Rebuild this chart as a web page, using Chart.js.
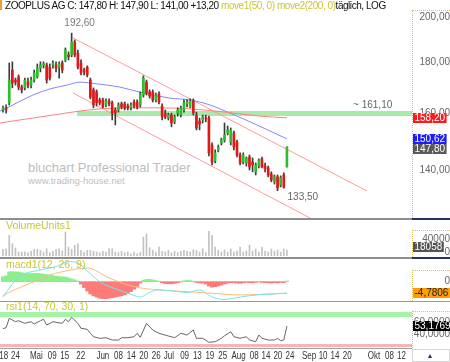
<!DOCTYPE html>
<html lang="de">
<head>
<meta charset="utf-8">
<title>ZOOPLUS AG</title>
<script src="https://cdn.jsdelivr.net/npm/chart.js@4.4.1/dist/chart.umd.min.js"></script>
<style>
body { margin: 0; background: #fff; }
#wrap { position: relative; width: 450px; height: 362px; overflow: hidden; background: #fff;
        font-family: "Liberation Sans", Arial, sans-serif; }
#wrap canvas { position: absolute; left: 0; }
.txt { position: absolute; white-space: nowrap; line-height: 12px; }
.ln { position: absolute; }
.axbox { position: absolute; left: 412px; width: 38px; box-sizing: border-box;
         border-left: 1px dotted #e2c061; border-top: 1px dotted #e2c061; }
</style>
</head>
<body>
<div id="wrap">
  <!-- watermark sits under the charts -->
  <div class="txt" style="left:28px;top:160px;font-size:13px;line-height:15px;color:#bdbdbd">bluchart Professional Trader</div>
  <div class="txt" style="left:28px;top:175px;font-size:9.5px;color:#bdbdbd">www.trading-house.net</div>

  <canvas id="mainChart" width="450" height="218" style="top:0"></canvas>
  <canvas id="volChart" width="450" height="36" style="top:220px"></canvas>
  <canvas id="macdChart" width="450" height="42" style="top:259px"></canvas>
  <canvas id="rsiChart" width="450" height="59" style="top:303px"></canvas>

  <div class="axbox" style="top:10px;height:208px"></div>
  <div class="axbox" style="top:230px;height:27px"></div>
  <div class="axbox" style="top:270px;height:31px"></div>
  <div class="axbox" style="top:311px;height:37px"></div>
  <div class="ln" style="left:412px;top:349px;width:38px;height:13px;box-sizing:border-box;border:1px solid #d8d8d8"></div>
  <div class="txt" style="left:428px;top:350px;font-size:8px;color:#23306a">&#9652;</div>

  <!-- panel separators -->
  <div class="ln" style="left:0;top:218px;width:412px;height:2px;background:#8d8d8d"></div>
  <div class="ln" style="left:412px;top:218px;width:38px;height:2px;background:#25325f"></div>
  <div class="ln" style="left:0;top:257px;width:412px;height:2px;background:#8d8d8d"></div>
  <div class="ln" style="left:412px;top:257px;width:38px;height:2px;background:#25325f"></div>
  <div class="ln" style="left:0;top:301px;width:450px;height:1px;background:#9a9a9a"></div>
  <div class="ln" style="left:0;top:348px;width:412px;height:1px;background:#a0a0a0"></div>
  <div class="ln" style="left:0;top:0;width:2px;height:10px;background:#f0a030"></div>

  <div class="txt" id="title" style="left:5px;top:0;font-size:10px;letter-spacing:-0.45px;color:#111"></div>
  <div class="txt" style="left:6px;top:219px;font-size:10.5px;color:#c9c634">VolumeUnits1</div>
  <div class="txt" style="left:6px;top:258px;font-size:10.5px;color:#c9c634">macd1(12, 26, 9)</div>
  <div class="txt" style="left:6px;top:300px;font-size:10.5px;color:#c9c634">rsi1(14, 70, 30, 1)</div>
</div>

<script>
// daily candles, index 0 = first trading day shown
const candleOpen = [161.1,161.9,163.8,176.8,172.7,174.0,169.9,169.6,171.9,170.7,
  172.7,174.0,177.6,178.9,178.9,178.0,178.9,178.9,178.0,179.7,
  181.0,183.1,183.1,188.7,183.9,179.7,176.8,178.0,172.7,168.8,
  168.0,164.9,164.9,163.0,164.5,163.8,161.1,161.1,163.4,163.4,
  162.6,161.9,164.1,164.1,163.0,166.8,171.9,168.0,168.0,164.9,
  167.2,162.6,159.9,158.1,159.2,156.7,159.9,159.2,161.1,163.4,
  162.2,164.5,159.2,157.0,157.4,158.1,158.1,148.5,143.1,146.8,
  149.2,150.2,152.7,149.5,152.7,149.5,145.1,142.7,142.4,144.4,
  142.7,139.5,141.4,143.8,141.4,140.8,138.8,136.3,137.9,135.3,
  138.5,141.2];
const candleHigh = [162.6,163.0,179.7,180.2,173.5,174.8,170.7,173.5,173.5,173.9,
  176.8,179.3,180.2,180.2,179.7,179.3,180.6,180.2,180.2,180.6,
  186.1,184.4,192.6,189.6,185.2,181.0,177.6,178.5,173.5,169.6,
  168.8,165.6,165.6,165.3,165.3,164.5,161.9,163.8,164.1,164.1,
  163.4,163.8,164.9,164.9,168.0,174.4,172.7,168.8,168.8,167.6,
  168.0,163.4,161.1,159.9,159.9,159.2,161.9,162.6,164.9,164.9,
  165.3,165.3,160.3,158.1,159.2,159.2,158.8,149.2,146.8,148.5,
  150.9,156.3,155.2,154.5,153.4,150.2,145.8,145.8,144.4,145.1,
  144.1,142.4,143.8,144.4,142.4,141.4,139.5,138.5,138.5,138.2,
  139.2,147.9];
const candleLow = [160.3,159.9,163.0,169.6,170.7,168.8,167.6,168.8,169.6,169.6,
  171.9,173.5,176.0,177.6,171.5,172.7,177.6,176.0,173.5,175.6,
  180.2,181.0,182.3,182.3,177.2,174.8,174.8,174.0,165.3,161.9,
  162.6,163.0,161.9,162.2,162.6,157.4,155.6,160.3,161.5,161.1,
  161.1,161.1,161.9,161.5,162.2,166.0,166.8,165.6,164.1,164.1,
  163.4,157.4,157.8,157.4,154.9,156.0,158.8,158.5,160.3,162.2,
  161.9,159.2,153.8,153.8,156.3,156.7,144.8,141.8,142.4,146.1,
  148.5,149.5,152.0,148.5,146.8,144.4,141.8,142.1,141.4,140.1,
  139.5,138.5,140.8,140.8,139.5,137.9,136.3,135.6,133.5,134.7,
  134.3,141.0];
const candleClose = [161.9,161.1,172.7,171.5,171.9,169.9,168.8,172.7,170.7,172.7,
  175.6,177.6,178.9,179.3,172.7,173.5,179.7,177.6,179.3,176.8,
  185.2,182.3,188.7,183.1,178.0,175.6,176.0,174.8,166.0,163.0,
  163.8,163.8,162.2,164.5,163.4,160.0,160.0,163.0,162.2,161.9,
  161.9,163.0,162.6,162.2,167.2,173.5,167.6,166.4,164.9,166.8,
  164.1,158.5,158.5,159.2,156.3,158.5,161.1,161.9,163.8,164.1,
  164.5,160.0,154.5,155.9,158.5,157.8,145.8,142.7,145.8,147.8,
  150.2,152.0,153.8,153.8,147.8,145.1,142.4,145.1,144.1,141.1,
  141.8,141.8,143.4,141.1,140.5,138.5,136.9,137.9,134.4,137.6,
  134.6,147.8];
const volumeUnits = [20800,22600,64200,38100,24800,12400,12400,12400,10200,14600,
  20800,20800,17700,12400,22600,10200,14600,20800,22600,15500,
  74400,27900,20800,33200,38100,17700,12400,17700,17700,14600,
  12400,10200,14600,12400,22600,22600,12400,10200,14600,10200,
  12400,7100,12400,7100,10900,58900,68200,25700,17700,12400,
  27900,14600,12400,17700,10200,14600,10200,14600,17700,14600,
  12400,19500,17700,12400,22600,10900,76600,64200,27900,17700,
  12400,18600,12400,21700,12400,15500,27900,12400,15500,34100,
  15500,21700,12400,27900,15500,12400,21700,15500,18600,12400,
  21700,18058];

// moving averages (read at points along the curve)
const ma50Idx = [-0.96,0.6,3.8,9.6,15.1,20.5,24.7,27.9,37.5,44.9,53.5,59.9,66.3,71.2,79.2,85.6,91];
const ma50Val = [160.7,161.5,163.4,166.8,169.2,170.7,171.9,171.5,169.9,167.6,165.6,164.9,163.0,160.7,156.7,153.4,150.62];
const ma200Idx = [-0.96,5.4,11.9,18.3,24.7,31.1,40.7,50.3,59.9,71.2,82.4,91];
const ma200Val = [156.3,157.4,158.5,159.6,160.7,161.5,161.9,161.9,161.5,160.3,158.8,158.2];

// trend channel and support
const upperIdx = [22.4, 116.7];
const upperVal = [190.5, 133.4];
const lowerIdx = [22.4, 98.4];
const lowerVal = [167.6, 125.3];
const supportLevel = 161.1;
const supportFromIdx = 23.7;

// MACD panel
const macdHist = [2.1,2.5,4.2,4.2,4.2,4.0,3.8,3.6,3.5,3.5,
  3.5,3.5,3.4,3.2,3.0,2.8,2.6,2.4,2.2,2.1,
  2.0,1.6,1.2,0.8,0.3,-1.0,-2.5,-4.0,-5.2,-6.0,
  -6.5,-7.0,-7.2,-7.2,-7.0,-6.8,-6.5,-6.2,-6.0,-5.6,
  -5.0,-4.2,-3.2,-2.0,-0.6,0.6,1.0,1.0,0.8,0.5,
  0.2,-0.4,-0.8,-0.9,-0.9,-0.7,-0.4,-0.1,0.4,0.6,
  0.5,0.2,-0.3,-0.5,-0.6,-1.0,-1.8,-2.3,-2.1,-1.8,
  -1.4,-1.0,-0.6,-0.4,-0.5,-0.6,-0.7,-0.5,-0.3,-0.4,
  -0.5,-0.3,-0.1,-0.3,-0.4,-0.5,-0.6,-0.4,-0.5,-0.3,
  -0.4,0.3];
const macdIdx = [0,3,5,12,17,21,24,26,31,37,40,44,47,50,55,59,63,67,71,76,82,87,91];
const macdVal = [-6.5,-1.0,2.0,5.0,6.4,8.5,8.0,5.8,0,-3.5,-4.8,-6.5,-4.5,-3.5,-4.0,-4.6,-3.5,-6.5,-7.5,-6.5,-5.5,-5.2,-4.78];
const signalIdx = [0,2,10,15,22,27,34,42,50,59,67,76,82,91];
const signalVal = [-6.0,-4.5,0,2.8,5.0,5.8,1.6,-2.1,-3.5,-4.2,-4.9,-5.6,-5.4,-4.9];

// RSI panel
const rsiIdx = [0,1,2,4,5,7,9,10,12,13,14,16,17,19,20,21,22,24,25,27,28,29,31,33,35,37,38,40,42,43,
  44,46,48,49,50,53,55,57,59,61,62,64,66,68,70,71,73,74,76,78,79,81,82,83,85,87,88,89,90,91];
const rsiVal = [49,50.5,66.2,60.5,62.2,57.8,60.5,56.7,62.2,64.5,55,60.5,59.5,57.8,64.5,60.5,67.8,57.8,49.5,47.8,
  41.2,35.5,32.8,33.8,30,30,33.8,33.8,35.5,41.2,
  34.5,57.8,46.7,43.8,41.2,36.7,33.8,41.2,38.3,46.7,32.8,32.8,26.2,27.2,32.8,37,43.8,35.5,32.8,35.5,
  30,27.2,38.3,32.8,30,30,32.8,28.8,30,53.2];
const rsiUpperZone = [68.3, 76.7];
const rsiLowerZone = [18.3, 23.3];

// last values shown in the axis boxes
const lastMa200 = 158.2, lastMa50 = 150.62, lastVolume = 18058, lastMacd = -4.7806, lastRsi = 53.1769;

// axis ticks
const priceTicks = [140, 160, 180, 200];
const volumeTicks = [0, 40000];
const macdTicks = [0];
const rsiTicks = [40, 60];
const dateTickIdx = [0,4.0,10.7,15.8,19.8,24.9,32.0,37.0,41.1,45.1,49.1,53.2,58.2,62.3,66.3,70.4,
  75.5,80.5,84.3,88.1,92.0,98.1,102.6,106.4,110.3,118.9,123.9,127.7];
const dateTickLabels = ["'18","24","Mai","09","15","22","Jun","08","14","20","26","Jul","09","13","19","25",
  "Aug","08","14","20","24","Sep","10","14","20","Okt","08","12"];

const X_MIN = -0.96, X_MAX = 131.09;
const FONT = '"Liberation Sans", Arial, sans-serif';
Chart.defaults.font.family = FONT;
Chart.defaults.animation = false;

const fmt = (v, d) => v.toFixed(d).replace('.', ',');
const pts = (xs, ys) => xs.map((x, k) => ({ x: x, y: ys[k] }));

// title line
const n = candleClose.length - 1;
document.getElementById('title').innerHTML =
  'ZOOPLUS AG C: ' + fmt(candleClose[n], 2) + ' H: ' + fmt(candleHigh[n], 2) + ' L: ' + fmt(candleLow[n], 2) +
  ' +' + fmt(candleClose[n] - candleClose[n - 1], 2) +
  ' <span style="color:#c9c634">move1(50, 0) move2(200, 0)</span>täglich, LOG';

function hiddenX() {
  return { type: 'linear', min: X_MIN, max: X_MAX, offset: false, display: false };
}

// labels are right-aligned near the canvas edge: padding = 449 - 412 - widest label
function rightAxis(type, min, max, tickValues, label, pad, labelOffset) {
  return {
    type: type, min: min, max: max, position: 'right',
    grid: { display: false, drawTicks: false },
    border: { display: false },
    ticks: { color: '#666', font: { size: 10 }, padding: pad, crossAlign: 'far', autoSkip: false,
             labelOffset: labelOffset || 0, callback: label },
    afterBuildTicks: s => { s.ticks = tickValues.map(v => ({ value: v })); },
    afterFit: s => { s.width = 38; s.paddingTop = 0; s.paddingBottom = 0; }
  };
}

function lineSet(xs, ys, color, smooth, order) {
  return { type: 'line', data: pts(xs, ys), borderColor: color, borderWidth: 1, pointRadius: 0,
           tension: smooth ? 0.4 : 0, cubicInterpolationMode: smooth ? 'monotone' : 'default', order: order };
}

// coloured strips behind the data
const bandPlugin = {
  id: 'bands',
  beforeDatasetsDraw(chart, args, opts) {
    const { ctx, chartArea: a, scales } = chart;
    (opts.items || []).forEach(b => {
      const x0 = b.fromIdx != null ? scales.x.getPixelForValue(b.fromIdx) : a.left;
      let y0, y1;
      if (b.level != null) { y0 = scales.y.getPixelForValue(b.level) + 1; y1 = y0 + b.px; }
      else { y0 = scales.y.getPixelForValue(b.hi); y1 = scales.y.getPixelForValue(b.lo); }
      ctx.fillStyle = b.color;
      ctx.fillRect(x0, y0, a.right - x0, y1 - y0);
    });
  }
};

// price notes in the plot
const notePlugin = {
  id: 'notes',
  afterDatasetsDraw(chart, args, opts) {
    const { ctx, scales } = chart;
    ctx.save();
    ctx.font = '10px ' + FONT;
    ctx.textBaseline = 'middle';
    (opts.items || []).forEach(t => {
      ctx.fillStyle = t.color;
      ctx.textAlign = t.align;
      ctx.fillText(t.text, scales.x.getPixelForValue(t.idx) + t.dx, scales.y.getPixelForValue(t.value) + t.dy);
    });
    ctx.restore();
  }
};

// value boxes on the right axis
const tagPlugin = {
  id: 'tags',
  afterDraw(chart, args, opts) {
    const { ctx } = chart;
    const y = chart.scales.y;
    const list = (opts.items || []).map(t => ({ text: t.text, bg: t.bg, fg: t.fg,
      py: y.getPixelForValue(t.value) + (opts.shift || 0) })).sort((a, b) => a.py - b.py);
    for (let i = 1; i < list.length; i++) {
      if (list[i].py - list[i - 1].py < 10) list[i].py = list[i - 1].py + 10;
    }
    ctx.save();
    ctx.font = '10px ' + FONT;
    ctx.textBaseline = 'middle';
    ctx.textAlign = 'left';
    list.forEach(t => {
      const w = ctx.measureText(t.text).width + 3;
      ctx.fillStyle = t.bg;
      ctx.fillRect(413, Math.round(t.py - 5), w, 10);
      ctx.fillStyle = t.fg;
      ctx.fillText(t.text, 414.5, Math.round(t.py) + 0.5);
    });
    ctx.restore();
  }
};

// date labels of the x scale, drawn narrow like the original
const dateLabelPlugin = {
  id: 'dateLabels',
  afterDraw(chart) {
    const { ctx, chartArea } = chart;
    const x = chart.scales.x;
    ctx.save();
    ctx.font = '10px ' + FONT;
    ctx.fillStyle = '#333';
    ctx.textAlign = 'center';
    ctx.textBaseline = 'middle';
    x.ticks.forEach((t, i) => {
      ctx.save();
      ctx.translate(x.getPixelForValue(t.value), chartArea.bottom + 8.5);
      ctx.scale(0.8, 1);
      ctx.fillText(dateTickLabels[i], 0, 0);
      ctx.restore();
    });
    ctx.restore();
  }
};

const baseOpts = { responsive: false, maintainAspectRatio: false, layout: { padding: 0 } };

// price panel
const bodyData = candleOpen.map((o, i) => ({ x: i, y: [o, candleClose[i]] }));
const wickData = candleHigh.map((h, i) => ({ x: i, y: [candleLow[i], h] }));

new Chart(document.getElementById('mainChart'), {
  type: 'bar',
  data: {
    datasets: [
      { data: bodyData, backgroundColor: c => candleClose[c.dataIndex] >= candleOpen[c.dataIndex] ? '#2cbf2c' : '#e01818',
        barThickness: 2, minBarLength: 1, grouped: false, order: 0 },
      { data: wickData, backgroundColor: '#3c3c3c', barThickness: 1, grouped: false, order: 1 },
      lineSet(ma200Idx, ma200Val, '#ff8080', true, 2),
      lineSet(ma50Idx, ma50Val, '#8585ff', true, 2),
      lineSet(upperIdx, upperVal, '#ff9a9a', false, 3),
      lineSet(lowerIdx, lowerVal, '#ff9a9a', false, 3)
    ]
  },
  options: Object.assign({}, baseOpts, {
    scales: {
      x: hiddenX(),
      y: rightAxis('logarithmic', 125.3, 208.06, priceTicks, v => fmt(v, 2), 6.4)
    },
    plugins: {
      legend: { display: false }, tooltip: { enabled: false },
      bands: { items: [{ fromIdx: supportFromIdx, level: supportLevel, px: 5, color: '#a9e9a9' }] },
      notes: { items: [
        { idx: 22, value: 192.6, text: fmt(192.6, 2), dx: 8, dy: -10, align: 'center', color: '#7a7a7a' },
        { idx: 88, value: 133.5, text: fmt(133.5, 2), dx: 10, dy: 7, align: 'left', color: '#666' },
        { idx: 112.2, value: supportLevel, text: '~ ' + fmt(supportLevel, 2), dx: 0, dy: -5, align: 'left', color: '#666' }
      ] },
      tags: { items: [
        { value: lastMa200, text: fmt(lastMa200, 2), bg: '#ff1a1a', fg: '#fff' },
        { value: lastMa50, text: fmt(lastMa50, 2), bg: '#1c1cff', fg: '#fff' },
        { value: candleClose[n], text: fmt(candleClose[n], 2), bg: '#5a5a5a', fg: '#fff' }
      ] }
    }
  }),
  plugins: [bandPlugin, notePlugin, tagPlugin]
});

// volume panel
new Chart(document.getElementById('volChart'), {
  type: 'bar',
  data: { datasets: [{ data: volumeUnits.map((v, i) => ({ x: i, y: v })), backgroundColor: '#c2c2c2', barThickness: 1 }] },
  options: Object.assign({}, baseOpts, {
    scales: { x: hiddenX(), y: rightAxis('linear', 0, 111600, volumeTicks, v => String(v), 9.2, -4) },
    plugins: { legend: { display: false }, tooltip: { enabled: false },
      tags: { shift: -3.5, items: [{ value: lastVolume, text: String(lastVolume), bg: '#555', fg: '#fff' }] } }
  }),
  plugins: [tagPlugin]
});

// MACD panel
new Chart(document.getElementById('macdChart'), {
  type: 'bar',
  data: {
    datasets: [
      lineSet(macdIdx, macdVal, '#72e6e6', true, 0),
      lineSet(signalIdx, signalVal, '#ffbb77', true, 0),
      { data: macdHist.map((v, i) => ({ x: i, y: v })), backgroundColor: c => macdHist[c.dataIndex] >= 0 ? '#8cef8c' : '#ff7a7a',
        barThickness: 3.3, order: 1 }
    ]
  },
  options: Object.assign({}, baseOpts, {
    scales: { x: hiddenX(), y: rightAxis('linear', -8.18, 9.62, macdTicks, v => String(v), 31.4) },
    plugins: { legend: { display: false }, tooltip: { enabled: false },
      tags: { items: [{ value: lastMacd, text: fmt(lastMacd, 4), bg: '#ff9d00', fg: '#222' }] } }
  }),
  plugins: [tagPlugin]
});

// RSI panel with the date axis
new Chart(document.getElementById('rsiChart'), {
  type: 'line',
  data: { datasets: [lineSet(rsiIdx, rsiVal, '#666', false, 0)] },
  options: Object.assign({}, baseOpts, {
    scales: {
      x: {
        type: 'linear', min: X_MIN, max: X_MAX, offset: false,
        grid: { display: false, drawTicks: false }, border: { display: false },
        ticks: { display: false },
        afterBuildTicks: s => { s.ticks = dateTickIdx.map(v => ({ value: v })); },
        afterFit: s => { s.height = 14; s.paddingLeft = 0; s.paddingRight = 0; }
      },
      y: rightAxis('linear', 16.67, 91.67, rsiTicks, v => fmt(v, 4), 0.9)
    },
    plugins: { legend: { display: false }, tooltip: { enabled: false },
      bands: { items: [
        { lo: rsiUpperZone[0], hi: rsiUpperZone[1], color: '#a6f2a6' },
        { lo: rsiLowerZone[0], hi: rsiLowerZone[1], color: '#f7b4b4' }
      ] },
      tags: { items: [{ value: lastRsi, text: fmt(lastRsi, 4), bg: '#000', fg: '#fff' }] } }
  }),
  plugins: [bandPlugin, tagPlugin, dateLabelPlugin]
});
</script>
</body>
</html>
